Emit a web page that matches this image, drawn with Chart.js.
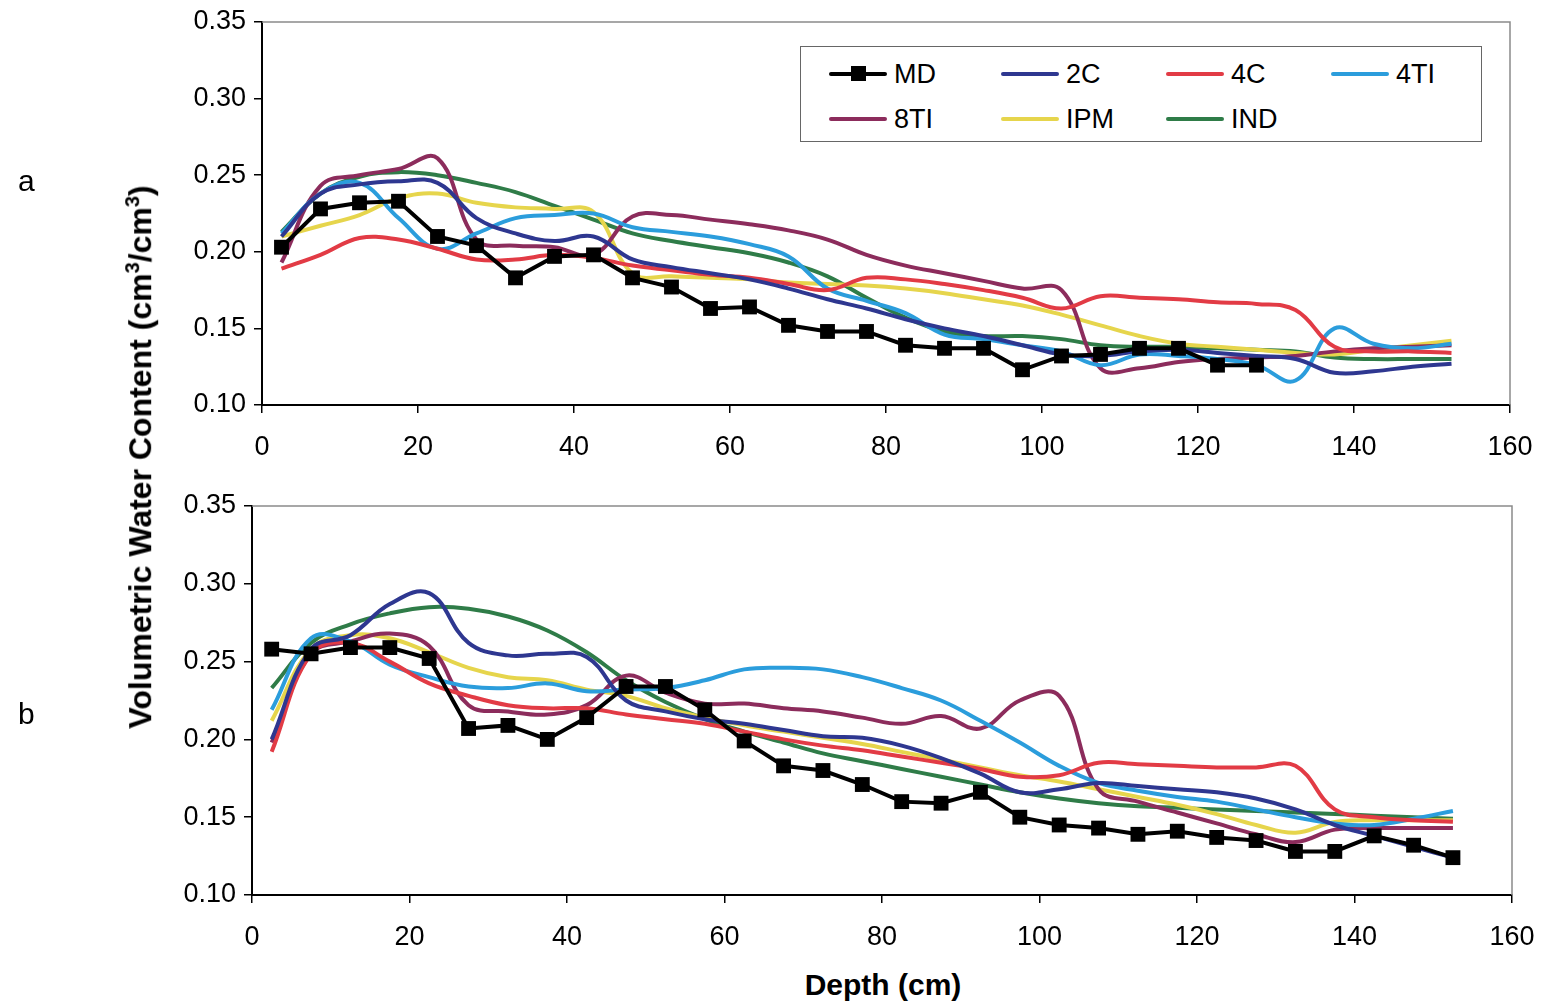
<!DOCTYPE html>
<html>
<head>
<meta charset="utf-8">
<script src="https://cdn.jsdelivr.net/npm/chart.js@4.4.1/dist/chart.umd.min.js"></script>
<style>
  body { margin: 0; background: #fff; font-family: "Liberation Sans", Arial, sans-serif; }
  #wrap { position: relative; width: 1544px; height: 1002px; overflow: hidden; }
  .box { position: absolute; left: 0; width: 1544px; }
  #boxA { top: 0; height: 470px; }
  #boxB { top: 470px; height: 490px; }
  .ytitle { position: absolute; left: 140px; top: 457px; transform: translate(-50%, -50%) rotate(-90deg);
            white-space: nowrap; font-weight: bold; font-size: 32px; color: #000; }
  .ytitle sup { font-size: 20px; }
  .xtitle { position: absolute; left: 883px; top: 985px; transform: translate(-50%, -50%);
            font-weight: bold; font-size: 30px; white-space: nowrap; }
  .panel { position: absolute; left: 18px; font-size: 30px; }
  #legend { position: absolute; left: 800px; top: 46px; width: 680px; height: 94px;
            border: 1.5px solid #666; background: #fff; }
  .item { position: absolute; height: 30px; font-size: 27px; line-height: 30px; }
  .item .sw { position: absolute; left: 0; top: 13px; width: 58px; height: 4px; border-radius: 2px; }
  .item .mk { position: absolute; left: 22px; top: 7px; width: 15px; height: 15px; background: #000; }
  .item .lb { position: absolute; left: 65px; top: 0; }
</style>
</head>
<body>
<div id="wrap">
  <div class="box" id="boxA"><canvas id="chartA"></canvas></div>
  <div class="box" id="boxB"><canvas id="chartB"></canvas></div>
  <div class="ytitle">Volumetric Water Content (cm<sup>3</sup>/cm<sup>3</sup>)</div>
  <div class="xtitle">Depth (cm)</div>
  <div class="panel" style="top:164px">a</div>
  <div class="panel" style="top:697px">b</div>
  <div id="legend"></div>
</div>
<script>
// depth (cm) of each reading
var depths = [2.5, 7.5, 12.5, 17.5, 22.5, 27.5, 32.5, 37.5, 42.5, 47.5, 52.5, 57.5, 62.5, 67.5, 72.5, 77.5,
	82.5, 87.5, 92.5, 97.5, 102.5, 107.5, 112.5, 117.5, 122.5, 127.5, 132.5, 137.5, 142.5, 147.5, 152.5];

var seriesNames = ['MD', '2C', '4C', '4TI', '8TI', 'IPM', 'IND'];
var seriesColors = ['#000000', '#2E3790', '#E23B45', '#2B9DDC', '#8C2C5C', '#E6D54C', '#2F7C48'];

var yTicks = [0.10, 0.15, 0.20, 0.25, 0.30, 0.35];
var xTicks = [0, 20, 40, 60, 80, 100, 120, 140, 160];

// panel a
var mdA = [0.203, 0.228, 0.232, 0.233, 0.210, 0.204, 0.183, 0.197, 0.198, 0.183, 0.177, 0.163, 0.164,
	0.152, 0.148, 0.148, 0.139, 0.137, 0.137, 0.123, 0.132, 0.133, 0.137, 0.137, 0.126, 0.126];
var c2A = [0.210, 0.238, 0.244, 0.246, 0.245, 0.222, 0.212, 0.207, 0.210, 0.195, 0.190, 0.186, 0.182, 0.176,
	0.169, 0.163, 0.156, 0.150, 0.145, 0.139, 0.133, 0.132, 0.135, 0.136, 0.134, 0.132, 0.130, 0.121, 0.122, 0.125, 0.127];
var c4A = [0.189, 0.198, 0.209, 0.208, 0.202, 0.195, 0.195, 0.198, 0.196, 0.191, 0.188, 0.185, 0.183, 0.179,
	0.175, 0.183, 0.182, 0.179, 0.175, 0.170, 0.163, 0.171, 0.170, 0.169, 0.167, 0.166, 0.162, 0.138, 0.135, 0.135, 0.134];
var ti4A = [0.212, 0.238, 0.245, 0.222, 0.202, 0.212, 0.222, 0.224, 0.225, 0.216, 0.213, 0.210, 0.205, 0.197,
	0.176, 0.168, 0.160, 0.146, 0.143, 0.139, 0.135, 0.126, 0.133, 0.132, 0.130, 0.126, 0.116, 0.150, 0.140, 0.137, 0.140];
var ti8A = [0.193, 0.243, 0.250, 0.254, 0.261, 0.208, 0.204, 0.203, 0.198, 0.223, 0.224, 0.221, 0.218, 0.214,
	0.208, 0.198, 0.191, 0.186, 0.181, 0.176, 0.175, 0.124, 0.124, 0.128, 0.130, 0.131, 0.132, 0.135, 0.137, 0.138, 0.139];
var ipmA = [0.210, 0.217, 0.224, 0.235, 0.238, 0.232, 0.229, 0.228, 0.226, 0.186, 0.184, 0.183, 0.182, 0.180,
	0.179, 0.178, 0.176, 0.173, 0.169, 0.165, 0.159, 0.152, 0.145, 0.140, 0.138, 0.136, 0.134, 0.133, 0.136, 0.139, 0.142];
var indA = [0.213, 0.238, 0.249, 0.252, 0.250, 0.245, 0.239, 0.230, 0.221, 0.212, 0.207, 0.203, 0.199, 0.193,
	0.184, 0.170, 0.157, 0.148, 0.145, 0.145, 0.143, 0.139, 0.138, 0.138, 0.137, 0.136, 0.135, 0.131, 0.130, 0.130, 0.130];

// panel b
var mdB = [0.258, 0.255, 0.259, 0.259, 0.252, 0.207, 0.209, 0.200, 0.214, 0.234, 0.234, 0.219, 0.199, 0.183,
	0.180, 0.171, 0.160, 0.159, 0.166, 0.150, 0.145, 0.143, 0.139, 0.141, 0.137, 0.135, 0.128, 0.128, 0.138, 0.132, 0.124];
var c2B = [0.200, 0.258, 0.267, 0.287, 0.294, 0.262, 0.254, 0.255, 0.253, 0.225, 0.218, 0.213, 0.210, 0.206,
	0.202, 0.201, 0.196, 0.188, 0.178, 0.166, 0.168, 0.172, 0.170, 0.168, 0.166, 0.162, 0.155, 0.145, 0.138, 0.131, 0.124];
var c4B = [0.192, 0.255, 0.262, 0.250, 0.236, 0.228, 0.222, 0.220, 0.220, 0.216, 0.213, 0.210, 0.205, 0.200,
	0.196, 0.193, 0.189, 0.185, 0.181, 0.176, 0.177, 0.185, 0.184, 0.183, 0.182, 0.182, 0.183, 0.155, 0.150, 0.148, 0.147];
var ti4B = [0.219, 0.265, 0.263, 0.248, 0.240, 0.234, 0.233, 0.236, 0.231, 0.232, 0.233, 0.238, 0.245, 0.246,
	0.245, 0.240, 0.233, 0.225, 0.212, 0.198, 0.183, 0.172, 0.167, 0.163, 0.160, 0.155, 0.150, 0.146, 0.145, 0.149, 0.154];
var ti8B = [0.198, 0.255, 0.263, 0.268, 0.260, 0.222, 0.218, 0.216, 0.222, 0.241, 0.230, 0.223, 0.223, 0.220,
	0.218, 0.214, 0.210, 0.215, 0.207, 0.225, 0.228, 0.168, 0.160, 0.153, 0.146, 0.139, 0.134, 0.142, 0.143, 0.143, 0.143];
var ipmB = [0.212, 0.258, 0.267, 0.265, 0.256, 0.246, 0.240, 0.238, 0.232, 0.228, 0.220, 0.214, 0.209, 0.205,
	0.201, 0.197, 0.192, 0.187, 0.182, 0.177, 0.173, 0.168, 0.163, 0.158, 0.152, 0.145, 0.140, 0.147, 0.148, 0.148, 0.148];
var indB = [0.233, 0.262, 0.274, 0.281, 0.285, 0.284, 0.279, 0.270, 0.256, 0.238, 0.224, 0.213, 0.205, 0.198,
	0.191, 0.186, 0.181, 0.176, 0.171, 0.166, 0.162, 0.159, 0.157, 0.156, 0.155, 0.154, 0.153, 0.152, 0.151, 0.150, 0.149];

var FONT = "'Liberation Sans', Arial, sans-serif";

function toPoints(vals) {
	let pts = [];
	for (let i = 0; i < vals.length; i++) {
		pts.push({x: depths[i], y: vals[i]});
	}
	return pts;
}

function makeDatasets(list) {
	let ds = [];
	for (let i = 0; i < list.length; i++) {
		let isMD = (i === 0);
		ds.push({
			label: seriesNames[i],
			data: toPoints(list[i]),
			borderColor: seriesColors[i],
			backgroundColor: seriesColors[i],
			borderWidth: 4,
			tension: isMD ? 0 : 0.4,
			pointStyle: 'rect',
			pointRadius: isMD ? 10.5 : 0,
			pointBorderWidth: 0,
			pointHoverRadius: isMD ? 10.5 : 0
		});
	}
	return ds;
}

// gray plot frame like the spreadsheet plot area
const frame = {
	id: 'frame',
	beforeDatasetsDraw(chart) {
		let a = chart.chartArea, ctx = chart.ctx;
		ctx.save();
		ctx.strokeStyle = '#8a8a8a';
		ctx.lineWidth = 1.5;
		ctx.beginPath();
		ctx.moveTo(a.left, a.top);
		ctx.lineTo(a.right, a.top);
		ctx.lineTo(a.right, a.bottom);
		ctx.stroke();
		ctx.restore();
	}
};

function makeChart(id, list, pad, xh) {
	return new Chart(document.getElementById(id), {
		type: 'line',
		data: {datasets: makeDatasets(list)},
		plugins: [frame],
		options: {
			responsive: true,
			maintainAspectRatio: false,
			animation: false,
			layout: {padding: pad},
			plugins: {legend: {display: false}, tooltip: {enabled: false}},
			scales: {
				x: {
					type: 'linear',
					min: 0,
					max: 160,
					afterFit: function(s) { s.height = xh; s.paddingLeft = 0; s.paddingRight = 0; },
					afterBuildTicks: function(s) { s.ticks = xTicks.map(v => ({value: v})); },
					grid: {display: true, drawOnChartArea: false, drawTicks: true, tickLength: 8, color: '#000', lineWidth: 1.5},
					border: {display: true, color: '#000', width: 2},
					ticks: {color: '#000', padding: 18, maxRotation: 0, font: {family: FONT, size: 27}}
				},
				y: {
					type: 'linear',
					min: 0.10,
					max: 0.35,
					afterFit: function(s) { s.width = 80; s.paddingTop = 0; s.paddingBottom = 0; },
					afterBuildTicks: function(s) { s.ticks = yTicks.map(v => ({value: v})); },
					grid: {display: true, drawOnChartArea: false, drawTicks: true, tickLength: 8, color: '#000', lineWidth: 1.5},
					border: {display: true, color: '#000', width: 2},
					ticks: {color: '#000', padding: 8, font: {family: FONT, size: 27},
						callback: function(v) { return Number(v).toFixed(2); }}
				}
			}
		}
	});
}

var chartA = makeChart('chartA', [mdA, c2A, c4A, ti4A, ti8A, ipmA, indA], {left: 182, right: 34, top: 22, bottom: 0}, 65);
var chartB = makeChart('chartB', [mdB, c2B, c4B, ti4B, ti8B, ipmB, indB], {left: 172, right: 32, top: 36, bottom: 15}, 50);

// legend box for panel a
var legendCols = [28, 200, 365, 530];
var legendRows = [12, 57];
var leg = document.getElementById('legend');
for (let i = 0; i < seriesNames.length; i++) {
	let item = document.createElement('div');
	item.className = 'item';
	item.style.left = legendCols[i % 4] + 'px';
	item.style.top = legendRows[Math.floor(i / 4)] + 'px';
	let html = '<span class="sw" style="background:' + seriesColors[i] + '"></span>';
	if (i === 0) html += '<span class="mk"></span>';
	html += '<span class="lb">' + seriesNames[i] + '</span>';
	item.innerHTML = html;
	leg.appendChild(item);
}
</script>
</body>
</html>
